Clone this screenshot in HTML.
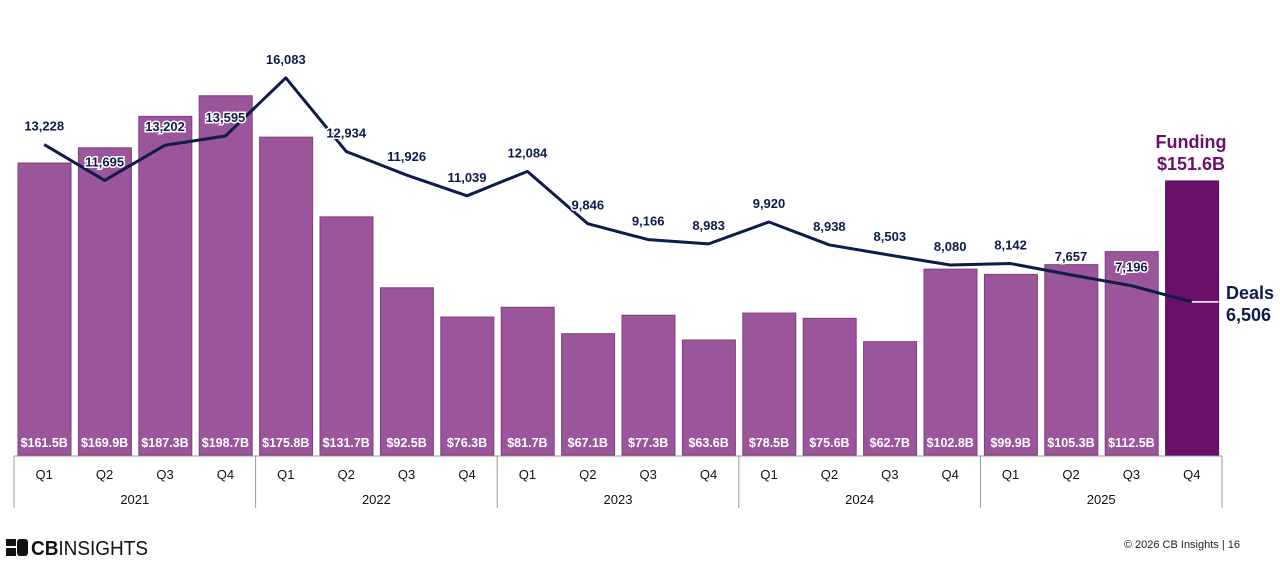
<!DOCTYPE html>
<html><head><meta charset="utf-8"><style>
body{margin:0;background:#fff;}
svg text{font-family:"Liberation Sans",Arial,sans-serif;}
</style></head><body>
<svg id="chart" width="1280" height="574" viewBox="0 0 1280 574" xmlns="http://www.w3.org/2000/svg">
<g id="bars"></g>
<g id="axis"></g>
<g id="line"></g>
<text x="1191" y="148" text-anchor="middle" font-size="18" font-weight="bold" fill="#6b1068">Funding</text>
<text x="1191" y="170" text-anchor="middle" font-size="18" font-weight="bold" fill="#6b1068">$151.6B</text>
<text x="1226" y="299" font-size="18" font-weight="bold" fill="#0f1b4a">Deals</text>
<text x="1226" y="321" font-size="18" font-weight="bold" fill="#0f1b4a">6,506</text>
<g>
<rect x="6" y="539" width="10" height="7" fill="#111"/><rect x="6" y="548" width="10" height="8" fill="#111"/><rect x="17" y="539" width="11" height="17" rx="3" fill="#111"/>
<text x="31" y="555" font-size="20" fill="#111" textLength="117" lengthAdjust="spacingAndGlyphs"><tspan font-weight="bold">CB</tspan>INSIGHTS</text>
</g>
<text x="1240" y="548" text-anchor="end" font-size="11" fill="#222">© 2026 CB Insights  |  16</text>
</svg>
<script>
const quarters=["Q1","Q2","Q3","Q4","Q1","Q2","Q3","Q4","Q1","Q2","Q3","Q4","Q1","Q2","Q3","Q4","Q1","Q2","Q3","Q4"];
const years=["2021","2022","2023","2024","2025"];
const funding=[161.5,169.9,187.3,198.7,175.8,131.7,92.5,76.3,81.7,67.1,77.3,63.6,78.5,75.6,62.7,102.8,99.9,105.3,112.5,151.6];
const fundingLabels=["$161.5B","$169.9B","$187.3B","$198.7B","$175.8B","$131.7B","$92.5B","$76.3B","$81.7B","$67.1B","$77.3B","$63.6B","$78.5B","$75.6B","$62.7B","$102.8B","$99.9B","$105.3B","$112.5B",""];
const deals=[13228,11695,13202,13595,16083,12934,11926,11039,12084,9846,9166,8983,9920,8938,8503,8080,8142,7657,7196,6506];
const dealLabels=["13,228","11,695","13,202","13,595","16,083","12,934","11,926","11,039","12,084","9,846","9,166","8,983","9,920","8,938","8,503","8,080","8,142","7,657","7,196",""];
const NS="http://www.w3.org/2000/svg";
const x0=14,slot=60.4,base=455;
const yF=v=>base-v*1.808;
const yD=v=>454-v*0.02339;
const cx=i=>x0+slot*i+slot/2;
function mk(t,a,p){const e=document.createElementNS(NS,t);for(const k in a)e.setAttribute(k,a[k]);p.appendChild(e);return e;}
const gb=document.getElementById('bars'),ga=document.getElementById('axis'),gl=document.getElementById('line');
funding.forEach((v,i)=>{
  const last=i===funding.length-1;
  const r=mk('rect',{x:x0+slot*i+4,y:yF(v),width:53,height:base-yF(v),fill:last?'#6b1068':'#9b559b',stroke:last?'#5a0d57':'#7d3f7d','stroke-width':1},gb);
  
  
  if(fundingLabels[i]){const t=mk('text',{x:cx(i),y:base-8,'text-anchor':'middle','font-size':12.5,'font-weight':'bold',fill:'#fff'},gb);t.textContent=fundingLabels[i];
  
  }
});
mk('line',{x1:x0,y1:base+1,x2:x0+slot*20,y2:base+1,stroke:'#999'},ga);
for(let g=0;g<=5;g++){const x=x0+slot*4*g;mk('line',{x1:x,y1:base+1,x2:x,y2:508,stroke:'#999'},ga);}
quarters.forEach((q,i)=>{const t=mk('text',{x:cx(i),y:479,'text-anchor':'middle','font-size':13,fill:'#111'},ga);t.textContent=q;

});
years.forEach((y,g)=>{const t=mk('text',{x:x0+slot*4*g+slot*2,y:504,'text-anchor':'middle','font-size':13,fill:'#111'},ga);t.textContent=y;

});
const pts=deals.map((v,i)=>cx(i)+','+yD(v)).join(' ');
const pl=mk('polyline',{points:pts,fill:'none',stroke:'#0f1b4a','stroke-width':3,'stroke-linejoin':'round'},gl);


const n=deals.length-1;
mk('line',{x1:cx(n),y1:yD(deals[n]),x2:x0+slot*n+57,y2:yD(deals[n]),stroke:'#fff','stroke-width':1.5},gl);
dealLabels.forEach((s,i)=>{if(!s)return;const t=mk('text',{x:cx(i),y:yD(deals[i])-14,'text-anchor':'middle','font-size':13,'font-weight':'bold',fill:'#0f1b4a',stroke:'#fff','stroke-width':3,'paint-order':'stroke'},gl);t.textContent=s;

});
</script>
</body></html>
